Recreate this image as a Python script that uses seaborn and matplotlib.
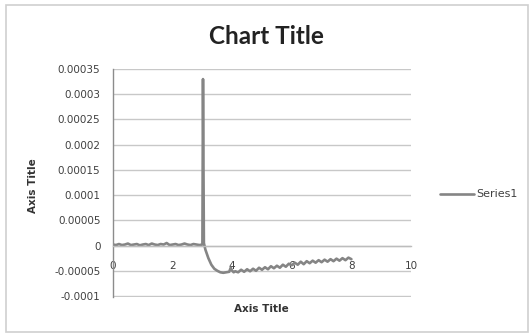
import matplotlib
matplotlib.use("Agg")
import matplotlib.pyplot as plt
import seaborn as sns
import pandas as pd
from matplotlib.patches import Rectangle

# ---- data ----
x_flat = [0.0, 0.1, 0.2, 0.3, 0.4, 0.5, 0.6, 0.7, 0.8, 0.9,
          1.0, 1.1, 1.2, 1.3, 1.4, 1.5, 1.6, 1.7, 1.8, 1.9,
          2.0, 2.1, 2.2, 2.3, 2.4, 2.5, 2.6, 2.7, 2.8, 2.9, 3.0]
y_flat = [2e-6, 1e-6, 3e-6, 1e-6, 2e-6, 4e-6, 1e-6, 2e-6, 3e-6, 0.5e-6,
          2e-6, 3e-6, 1e-6, 4e-6, 2e-6, 1e-6, 3e-6, 2e-6, 5e-6, 1e-6,
          2e-6, 3e-6, 1e-6, 2e-6, 4e-6, 2e-6, 1e-6, 3e-6, 2e-6, 1e-6, 2e-6]
x_spike = [3.02, 3.05, 3.1, 3.2, 3.3, 3.4, 3.5, 3.6, 3.7, 3.8, 3.9, 3.95, 4.0, 4.05, 4.1]
y_spike = [3.3e-4, 5e-6, -8e-6, -25e-6, -38e-6, -46e-6, -50e-6, -53e-6, -54e-6, -53e-6,
           -52e-6, -44e-6, -50e-6, -53e-6, -51e-6]
x_tail = [4.2, 4.3, 4.4, 4.5, 4.6, 4.7, 4.8, 4.9, 5.0, 5.1, 5.2, 5.3, 5.4, 5.5,
          5.6, 5.7, 5.8, 5.9, 6.0, 6.1, 6.2, 6.3, 6.4, 6.5, 6.6, 6.7, 6.8, 6.9,
          7.0, 7.1, 7.2, 7.3, 7.4, 7.5, 7.6, 7.7, 7.8, 7.9, 8.0]
y_tail = [-53e-6, -48e-6, -52e-6, -47e-6, -51e-6, -46e-6, -50e-6, -44e-6, -48e-6, -43e-6,
          -47e-6, -41e-6, -45e-6, -40e-6, -44e-6, -38e-6, -42e-6, -36e-6, -39e-6, -34e-6,
          -38e-6, -32e-6, -37e-6, -31e-6, -35e-6, -30e-6, -34e-6, -29e-6, -33e-6, -28e-6,
          -32e-6, -27e-6, -31e-6, -26e-6, -30e-6, -25e-6, -29e-6, -24e-6, -27e-6]

y_ticks = [-0.0001, -0.00005, 0, 0.00005, 0.0001, 0.00015, 0.0002, 0.00025, 0.0003, 0.00035]
y_tick_labels = ["-0.0001", "-0.00005", "0", "0.00005", "0.0001", "0.00015",
                 "0.0002", "0.00025", "0.0003", "0.00035"]
x_ticks = [0, 2, 4, 6, 8, 10]
x_tick_labels = ["0", "2", "4", "6", "8", "10"]

df = pd.DataFrame({"x": x_flat + x_spike + x_tail,
                   "y": y_flat + y_spike + y_tail,
                   "series": "Series1"})

sns.set_style("white")
plt.rcParams['font.family'] = ['DejaVu Sans']

fig = plt.figure(figsize=(5.29, 3.33), dpi=100)
ax = fig.add_axes([113/529, 1-297/333, (411-113)/529, (297-69)/333])

sns.lineplot(data=df, x="x", y="y", hue="series", palette=["#858585"],
             linewidth=1.9, ax=ax, sort=False, estimator=None, legend=False)

ax.set_xlim(0, 10)
ax.set_ylim(-0.000102, 0.00035)
ax.set_yticks(y_ticks)
ax.set_yticklabels(y_tick_labels)
ax.set_xticks(x_ticks)
ax.set_xticklabels(x_tick_labels)
ax.grid(axis="y", color="#c8c8c8", linewidth=1.0)
ax.grid(axis="x", visible=False)
ax.set_axisbelow(True)

for s in ["top", "right"]:
    ax.spines[s].set_visible(False)
ax.spines["left"].set_color("#8c8c8c")
ax.spines["left"].set_linewidth(1.0)
ax.spines["bottom"].set_position(("data", 0))
ax.spines["bottom"].set_color("#bdbdbd")
ax.spines["bottom"].set_linewidth(1.0)
ax.tick_params(axis="y", length=0, pad=9, labelsize=7.5, labelcolor="#404040")
ax.tick_params(axis="x", length=0, pad=11, labelsize=7.5, labelcolor="#404040")
ax.set_xlabel("")
ax.set_ylabel("")

fig.text(266/529, 1-36/333, "Chart Title", ha="center", va="center",
         fontsize=17.5, fontweight="bold", color="#222222", family=["Lato", "DejaVu Sans"])
fig.text(261/529, 1-309/333, "Axis Title", ha="center", va="center",
         fontsize=7.5, fontweight="bold", color="#333333")
fig.text(33/529, 1-186/333, "Axis Title", ha="center", va="center", rotation=90,
         fontsize=7.5, fontweight="bold", color="#333333")

# legend
fig.lines.append(plt.Line2D([440/529, 474/529], [1-194/333, 1-194/333],
                            transform=fig.transFigure, color="#858585", linewidth=1.9))
fig.text(476/529, 1-194/333, "Series1", ha="left", va="center",
         fontsize=8, color="#404040")

fig.patches.append(Rectangle((6/529, 1-332/333), (528-6)/529, (332-5)/333,
                             transform=fig.transFigure, fill=False,
                             edgecolor="#cfcfcf", linewidth=1.2))

fig.savefig("out.png", dpi=100)
